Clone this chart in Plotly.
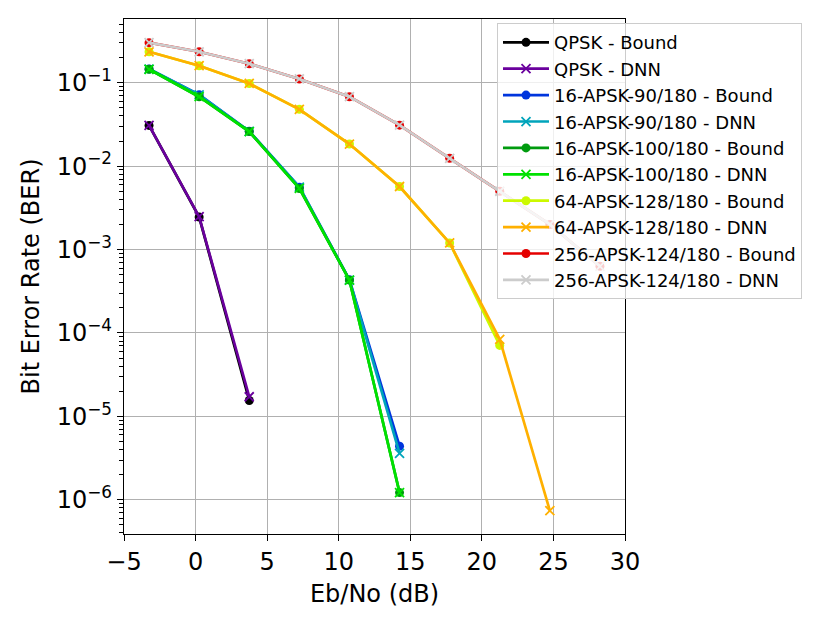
import plotly.graph_objects as go

# Eb/No points shared by every curve (dB)
ebno = [-3.25, 0.25, 3.75, 7.25, 10.75, 14.25, 17.75, 21.25, 24.75, 28.25]

qpsk_bound = [0.0308, 0.00245, 1.55e-5]
qpsk_dnn = [0.0308, 0.00248, 1.72e-5]

apsk16_90_bound = [0.146, 0.0718, 0.0262, 0.0056, 4.35e-4, 4.4e-6]
apsk16_90_dnn = [0.146, 0.0715, 0.0261, 0.0056, 4.3e-4, 3.6e-6]

apsk16_100_bound = [0.145, 0.068, 0.026, 0.0054, 4.3e-4, 1.22e-6]
apsk16_100_dnn = [0.145, 0.068, 0.026, 0.0054, 4.3e-4, 1.22e-6]

apsk64_bound = [0.235, 0.16, 0.098, 0.048, 0.0184, 0.0057, 0.0012, 7.1e-5]
apsk64_dnn = [0.235, 0.16, 0.098, 0.048, 0.0184, 0.0057, 0.0012, 8.4e-5, 7.4e-7]

apsk256_bound = [0.302, 0.235, 0.169, 0.111, 0.068, 0.031, 0.0124, 0.005, 0.002, 6.3e-4]
apsk256_dnn = [0.302, 0.235, 0.169, 0.111, 0.068, 0.031, 0.0124, 0.005, 0.002, 6.3e-4]

y_ticks = [1e-6, 1e-5, 1e-4, 1e-3, 1e-2, 1e-1]
y_labels = ["10<sup>−6</sup>", "10<sup>−5</sup>", "10<sup>−4</sup>",
            "10<sup>−3</sup>", "10<sup>−2</sup>", "10<sup>−1</sup>"]
x_ticks = [-5, 0, 5, 10, 15, 20, 25, 30]
x_labels = ["−5", "0", "5", "10", "15", "20", "25", "30"]

# nipy_spectral sampled at 10 even steps
colors = [
    "#000000", "#6a009d", "#0035dd", "#00a4bb", "#009b0f",
    "#00e100", "#ccf900", "#ffb000", "#e50000", "#cccccc",
]

series = [
    ("QPSK - Bound", qpsk_bound),
    ("QPSK - DNN", qpsk_dnn),
    ("16-APSK-90/180 - Bound", apsk16_90_bound),
    ("16-APSK-90/180 - DNN", apsk16_90_dnn),
    ("16-APSK-100/180 - Bound", apsk16_100_bound),
    ("16-APSK-100/180 - DNN", apsk16_100_dnn),
    ("64-APSK-128/180 - Bound", apsk64_bound),
    ("64-APSK-128/180 - DNN", apsk64_dnn),
    ("256-APSK-124/180 - Bound", apsk256_bound),
    ("256-APSK-124/180 - DNN", apsk256_dnn),
]

fig = go.Figure()
for i, (name, ber) in enumerate(series):
    c = colors[i]
    if name.endswith("Bound"):
        marker = dict(symbol="circle", size=9, color=c)
    else:
        marker = dict(symbol="x-thin", size=9, color=c, line=dict(width=1.8, color=c))
    fig.add_scatter(
        x=ebno[:len(ber)],
        y=ber,
        name=name,
        mode="lines+markers",
        line=dict(color=c, width=2.7),
        marker=marker,
    )

minor_vals = [k * 10.0 ** e for e in range(-7, 0) for k in range(2, 10)]

# page body adds ~8px offset, so margins are trimmed by that much
fig.update_layout(
    width=830,
    height=623,
    margin=dict(l=116, r=213, t=11, b=97),
    paper_bgcolor="white",
    plot_bgcolor="white",
    font=dict(family="DejaVu Sans", size=24, color="black"),
    legend=dict(
        x=0.7445,
        y=0.992,
        xanchor="left",
        yanchor="top",
        bgcolor="rgba(255,255,255,0.8)",
        bordercolor="#cccccc",
        borderwidth=1,
        font=dict(size=18),
        tracegroupgap=0,
        itemwidth=46,
    ),
    showlegend=True,
)
fig.update_xaxes(
    range=[-5, 30],
    tickmode="array",
    tickvals=x_ticks,
    ticktext=x_labels,
    automargin=False,
    showgrid=True,
    gridcolor="#b0b0b0",
    gridwidth=1.4,
    zeroline=False,
    showline=True,
    linecolor="black",
    linewidth=1.4,
    mirror=True,
    ticks="outside",
    ticklen=6,
    tickwidth=1.4,
    tickcolor="black",
    tickfont=dict(size=24),
    title=dict(text="Eb/No (dB)", font=dict(size=24), standoff=10),
)
fig.update_yaxes(
    type="log",
    range=[-6.41, -0.236],
    tickmode="array",
    tickvals=y_ticks,
    ticktext=y_labels,
    automargin=False,
    showgrid=True,
    gridcolor="#b0b0b0",
    gridwidth=1.4,
    zeroline=False,
    showline=True,
    linecolor="black",
    linewidth=1.4,
    mirror=True,
    ticks="outside",
    ticklen=6,
    tickwidth=1.4,
    tickcolor="black",
    tickfont=dict(size=24),
    minor=dict(
        tickmode="array",
        tickvals=minor_vals,
        ticks="outside",
        ticklen=3.5,
        tickwidth=1,
        tickcolor="black",
        showgrid=False,
    ),
    title=dict(text="Bit Error Rate (BER)", font=dict(size=24), standoff=10),
)

fig.write_html("out.html")
